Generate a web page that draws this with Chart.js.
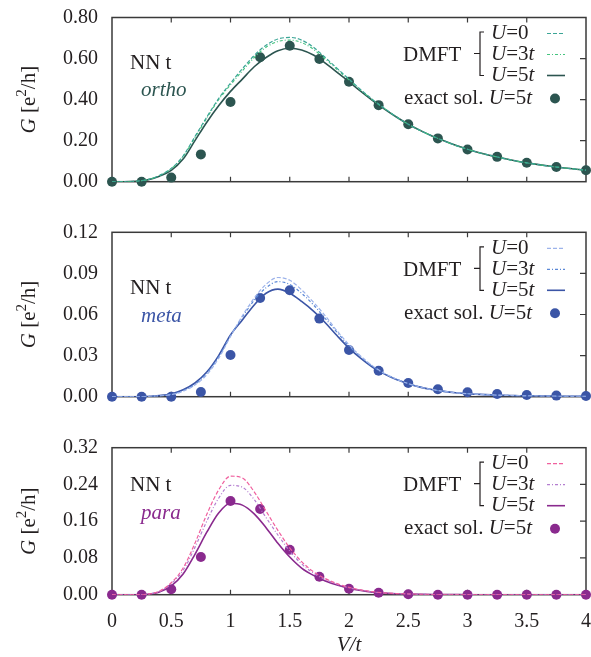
<!DOCTYPE html>
<html>
<head>
<meta charset="utf-8">
<script src="https://cdn.jsdelivr.net/npm/chart.js@4.4.0/dist/chart.umd.min.js"></script>
<style>
  html, body { margin: 0; padding: 0; background: #fff; }
  #wrap { position: relative; width: 591px; height: 657px; }
  canvas { position: absolute; left: 0; }
</style>
</head>
<body>
<div id="wrap">
  <canvas id="ortho" width="591" height="210" style="top:0px"></canvas>
  <canvas id="meta" width="591" height="215" style="top:210px"></canvas>
  <canvas id="para" width="591" height="232" style="top:425px"></canvas>
</div>
<script>
// V/t grid for the DMFT curves and for the exact solution
const V_GRID = [0, 0.1, 0.2, 0.3, 0.4, 0.5, 0.6, 0.7, 0.8, 0.9, 1.0, 1.1, 1.2, 1.3, 1.4, 1.5, 1.6, 1.7, 1.8, 1.9,
  2.0, 2.1, 2.2, 2.3, 2.4, 2.5, 2.6, 2.7, 2.8, 2.9, 3.0, 3.1, 3.2, 3.3, 3.4, 3.5, 3.6, 3.7, 3.8, 3.9, 4.0];
const V_EXACT = [0, 0.25, 0.5, 0.75, 1.0, 1.25, 1.5, 1.75, 2.0, 2.25, 2.5, 2.75, 3.0, 3.25, 3.5, 3.75, 4.0];
const X_TICKS = [0, 0.5, 1, 1.5, 2, 2.5, 3, 3.5, 4];

// ortho
const ORTHO_U0 = [0, 0, 0.002, 0.01, 0.03, 0.065, 0.125, 0.22, 0.315, 0.405, 0.48, 0.55, 0.615, 0.665, 0.695, 0.703,
  0.69, 0.655, 0.605, 0.552, 0.5, 0.448, 0.4, 0.357, 0.316, 0.28, 0.25, 0.223, 0.199, 0.177, 0.158, 0.141, 0.127,
  0.114, 0.102, 0.092, 0.083, 0.075, 0.068, 0.062, 0.056];
const ORTHO_U3 = [0, 0, 0.002, 0.01, 0.03, 0.063, 0.122, 0.215, 0.31, 0.4, 0.472, 0.54, 0.605, 0.655, 0.683, 0.69,
  0.678, 0.645, 0.598, 0.547, 0.496, 0.445, 0.398, 0.356, 0.316, 0.28, 0.25, 0.223, 0.199, 0.177, 0.158, 0.141, 0.127,
  0.114, 0.102, 0.092, 0.083, 0.075, 0.068, 0.062, 0.056];
const ORTHO_U5 = [0, 0, 0.002, 0.009, 0.027, 0.055, 0.11, 0.2, 0.29, 0.37, 0.44, 0.5, 0.56, 0.605, 0.638, 0.65,
  0.642, 0.617, 0.578, 0.533, 0.487, 0.44, 0.395, 0.354, 0.315, 0.28, 0.25, 0.223, 0.199, 0.177, 0.158, 0.141, 0.127,
  0.114, 0.102, 0.092, 0.083, 0.075, 0.068, 0.062, 0.056];
const ORTHO_EXACT = [0, 0.0, 0.02, 0.133, 0.388, 0.606, 0.662, 0.598, 0.487, 0.373, 0.28, 0.211, 0.157, 0.121,
  0.092, 0.072, 0.056];
const ORTHO_Y_TICKS = [0, 0.2, 0.4, 0.6, 0.8];

// meta
const META_U0 = [0, 0, 0, 0.0002, 0.0006, 0.0015, 0.004, 0.0085, 0.016, 0.028, 0.044, 0.059, 0.072, 0.082, 0.087,
  0.085, 0.078, 0.069, 0.059, 0.048, 0.038, 0.0295, 0.0225, 0.017, 0.0128, 0.0096, 0.007, 0.0052, 0.0039, 0.0029,
  0.0022, 0.0017, 0.0013, 0.001, 0.0008, 0.0006, 0.0005, 0.0004, 0.0003, 0.0003, 0.0002];
const META_U3 = [0, 0, 0, 0.0002, 0.0007, 0.0017, 0.0045, 0.009, 0.017, 0.029, 0.0445, 0.058, 0.0705, 0.0795, 0.084,
  0.082, 0.0755, 0.067, 0.057, 0.047, 0.037, 0.029, 0.022, 0.0168, 0.0127, 0.0095, 0.007, 0.0052, 0.0039, 0.0029,
  0.0022, 0.0017, 0.0013, 0.001, 0.0008, 0.0006, 0.0005, 0.0004, 0.0003, 0.0003, 0.0002];
const META_U5 = [0, 0, 0, 0.0002, 0.0008, 0.002, 0.005, 0.01, 0.018, 0.03, 0.045, 0.056, 0.067, 0.0755, 0.0785,
  0.0755, 0.0695, 0.0625, 0.054, 0.0445, 0.0355, 0.028, 0.0215, 0.0165, 0.0125, 0.0095, 0.007, 0.0052, 0.0039, 0.0029,
  0.0022, 0.0017, 0.0013, 0.001, 0.0008, 0.0006, 0.0005, 0.0004, 0.0003, 0.0003, 0.0002];
const META_EXACT = [0, 0, 0, 0.0034, 0.0304, 0.072, 0.0777, 0.057, 0.0341, 0.019, 0.010, 0.0054, 0.0032, 0.002,
  0.0012, 0.0008, 0.0005];
const META_Y_TICKS = [0, 0.03, 0.06, 0.09, 0.12];

// para
const PARA_U0 = [0, 0, 0, 0.001, 0.008, 0.026, 0.058, 0.112, 0.175, 0.228, 0.258, 0.254, 0.224, 0.182, 0.14, 0.102,
  0.072, 0.05, 0.035, 0.024, 0.016, 0.0105, 0.0065, 0.004, 0.0025, 0.0015, 0.0008, 0.0004, 0.0002, 0.0001, 0,
  0, 0, 0, 0, 0, 0, 0, 0, 0, 0];
const PARA_U3 = [0, 0, 0, 0.001, 0.007, 0.024, 0.053, 0.103, 0.16, 0.21, 0.238, 0.234, 0.207, 0.168, 0.13, 0.095,
  0.067, 0.047, 0.033, 0.023, 0.015, 0.01, 0.006, 0.0038, 0.0023, 0.0014, 0.0008, 0.0004, 0.0002, 0.0001, 0,
  0, 0, 0, 0, 0, 0, 0, 0, 0, 0];
const PARA_U5 = [0, 0, 0, 0.001, 0.006, 0.019, 0.045, 0.088, 0.136, 0.178, 0.199, 0.195, 0.176, 0.146, 0.112, 0.082,
  0.058, 0.042, 0.03, 0.021, 0.014, 0.009, 0.0055, 0.0035, 0.002, 0.0012, 0.0007, 0.0004, 0.0002, 0.0001, 0,
  0, 0, 0, 0, 0, 0, 0, 0, 0, 0];
const PARA_EXACT = [0, 0, 0.0118, 0.082, 0.204, 0.1866, 0.098, 0.039, 0.013, 0.0044, 0.001, 0, 0, 0, 0, 0, 0];
const PARA_Y_TICKS = [0, 0.08, 0.16, 0.24, 0.32];

const SERIF = '"Liberation Serif", "Times New Roman", serif';
const INK = '#231f20';
const FRAME = '#3a3a3a';

function fontFor(style) {
  if (style === 'i') return 'italic 21px ' + SERIF;
  if (style === 'sup') return '15px ' + SERIF;
  return '21px ' + SERIF;
}

// draw text made of upright / italic / superscript pieces
function richText(ctx, parts, x, y, align, color) {
  let w = 0;
  parts.forEach(([t, s]) => { ctx.font = fontFor(s); w += ctx.measureText(t).width; });
  let cx = align === 'right' ? x - w : align === 'center' ? x - w / 2 : x;
  ctx.fillStyle = color || INK;
  ctx.textAlign = 'left';
  ctx.textBaseline = 'middle';
  parts.forEach(([t, s]) => {
    ctx.font = fontFor(s);
    ctx.fillText(t, cx, s === 'sup' ? y - 7 : y);
    cx += ctx.measureText(t).width;
  });
}

function makePanel(id, p) {
  const lineSet = (label, ys, color, dash, width) => ({
    label, showLine: true, data: V_GRID.map((v, i) => ({ x: v, y: ys[i] })),
    borderColor: color, borderWidth: width, borderDash: dash, pointRadius: 0,
    cubicInterpolationMode: 'monotone', fill: false
  });

  const panelPlugin = {
    id: 'panel_' + id,
    beforeDatasetsDraw(chart) {
      const { ctx, chartArea: a, scales } = chart;
      ctx.save();
      ctx.strokeStyle = FRAME;
      ctx.lineWidth = 1.5;
      ctx.strokeRect(a.left, a.top, a.right - a.left, a.bottom - a.top);
      ctx.lineWidth = 1.2;
      ctx.beginPath();
      X_TICKS.slice(1, -1).forEach(v => {
        const px = scales.x.getPixelForValue(v);
        ctx.moveTo(px, a.bottom); ctx.lineTo(px, a.bottom - 5);
        ctx.moveTo(px, a.top); ctx.lineTo(px, a.top + 5);
      });
      p.yTicks.slice(1, -1).forEach(v => {
        const py = scales.y.getPixelForValue(v);
        ctx.moveTo(a.right, py); ctx.lineTo(a.right - 6, py);
      });
      ctx.stroke();
      ctx.restore();
    },
    afterDraw(chart) {
      const { ctx, chartArea: a } = chart;
      const T = a.top;
      ctx.save();
      // y axis title
      ctx.translate(29, (a.top + a.bottom) / 2);
      ctx.rotate(-Math.PI / 2);
      richText(ctx, [['G', 'i'], [' [e', ''], ['2', 'sup'], ['/h]', '']], 0, 0, 'center');
      ctx.restore();

      ctx.save();
      // panel labels
      richText(ctx, [['NN t', '']], 130, T + p.nnY, 'left');
      richText(ctx, [[p.name, 'i']], 141, T + p.nameY, 'left', p.colors[2]);

      // legend
      richText(ctx, [['U', 'i'], ['=0', '']], 491, T + 16, 'left');
      richText(ctx, [['U', 'i'], ['=3', ''], ['t', 'i']], 491, T + 37, 'left');
      richText(ctx, [['U', 'i'], ['=5', ''], ['t', 'i']], 491, T + 58, 'left');
      richText(ctx, [['DMFT', '']], 403, T + 38, 'left');
      richText(ctx, [['exact sol. ', ''], ['U', 'i'], ['=5', ''], ['t', 'i']], 532, T + 81, 'right');

      ctx.strokeStyle = INK;
      ctx.lineWidth = 1.2;
      ctx.beginPath();
      ctx.moveTo(484, T + 14.5); ctx.lineTo(480, T + 14.5); ctx.lineTo(480, T + 58); ctx.lineTo(484, T + 58);
      ctx.moveTo(474, T + 36); ctx.lineTo(480, T + 36);
      ctx.stroke();

      const samples = [[T + 16, [4, 2], 1.2], [T + 37, [3, 2, 1, 2], 1.2], [T + 58, [], 1.6]];
      samples.forEach(([y, dash, w], i) => {
        ctx.strokeStyle = p.colors[i];
        ctx.lineWidth = w;
        ctx.setLineDash(dash);
        ctx.beginPath();
        ctx.moveTo(547, y); ctx.lineTo(565, y);
        ctx.stroke();
      });
      ctx.setLineDash([]);
      ctx.fillStyle = p.colors[2];
      ctx.beginPath();
      ctx.arc(555, T + 81, 5, 0, Math.PI * 2);
      ctx.fill();

      if (p.bottom) {
        richText(ctx, [['V', 'i'], ['/', 'i'], ['t', 'i']], (a.left + a.right) / 2, 220, 'center');
      }
      ctx.restore();
    }
  };

  return new Chart(document.getElementById(id), {
    type: 'scatter',
    data: {
      datasets: [
        lineSet('U=0', p.u0, p.colors[0], [4, 2], 1.2),
        lineSet('U=3t', p.u3, p.colors[1], [3, 2, 1, 2], 1.2),
        lineSet('U=5t', p.u5, p.colors[2], [], 1.6),
        {
          label: 'exact sol. U=5t',
          data: V_EXACT.map((v, i) => ({ x: v, y: p.exact[i] })),
          backgroundColor: p.colors[2], borderColor: p.colors[2],
          pointRadius: 5, pointBorderWidth: 0, clip: false
        }
      ]
    },
    options: {
      responsive: false,
      animation: false,
      devicePixelRatio: 1,
      layout: { padding: { top: p.padTop, bottom: p.padBottom, left: 0, right: 2 } },
      plugins: { legend: { display: false }, tooltip: { enabled: false } },
      scales: {
        x: {
          type: 'linear', min: 0, max: 4,
          grid: { display: false, drawTicks: false },
          border: { display: false },
          afterBuildTicks: s => { s.ticks = X_TICKS.map(v => ({ value: v })); },
          afterFit: s => { s.height = p.bottom ? 62.3 : 0; s.paddingLeft = 0; s.paddingRight = 0; },
          ticks: {
            display: !!p.bottom, padding: 15, color: INK,
            font: { family: SERIF, size: 20 },
            maxRotation: 0, autoSkip: false,
            callback: v => String(v)
          }
        },
        y: {
          type: 'linear', min: 0, max: p.yTicks[p.yTicks.length - 1],
          grid: { display: false, drawTicks: false },
          border: { display: false },
          afterBuildTicks: s => { s.ticks = p.yTicks.map(v => ({ value: v })); },
          afterFit: s => { s.width = 112; s.paddingTop = 0; s.paddingBottom = 0; },
          ticks: {
            padding: 14, color: INK, autoSkip: false,
            font: { family: SERIF, size: 20 },
            callback: v => v.toFixed(2)
          }
        }
      }
    },
    plugins: [panelPlugin]
  });
}

makePanel('ortho', {
  name: 'ortho', u0: ORTHO_U0, u3: ORTHO_U3, u5: ORTHO_U5, exact: ORTHO_EXACT, yTicks: ORTHO_Y_TICKS,
  colors: ['#3ba596', '#45c47f', '#2c5550'], nnY: 45.5, nameY: 72.5, padTop: 17.5, padBottom: 28.3
});
makePanel('meta', {
  name: 'meta', u0: META_U0, u3: META_U3, u5: META_U5, exact: META_EXACT, yTicks: META_Y_TICKS,
  colors: ['#9db3ea', '#5b88d6', '#3b55a6'], nnY: 56, nameY: 84, padTop: 22.3, padBottom: 28.3
});
makePanel('para', {
  name: 'para', u0: PARA_U0, u3: PARA_U3, u5: PARA_U5, exact: PARA_EXACT, yTicks: PARA_Y_TICKS,
  colors: ['#f0609e', '#b47ed0', '#8a2a8e'], nnY: 37.3, nameY: 65.6, padTop: 22.7, padBottom: 0, bottom: true
});
</script>
</body>
</html>
